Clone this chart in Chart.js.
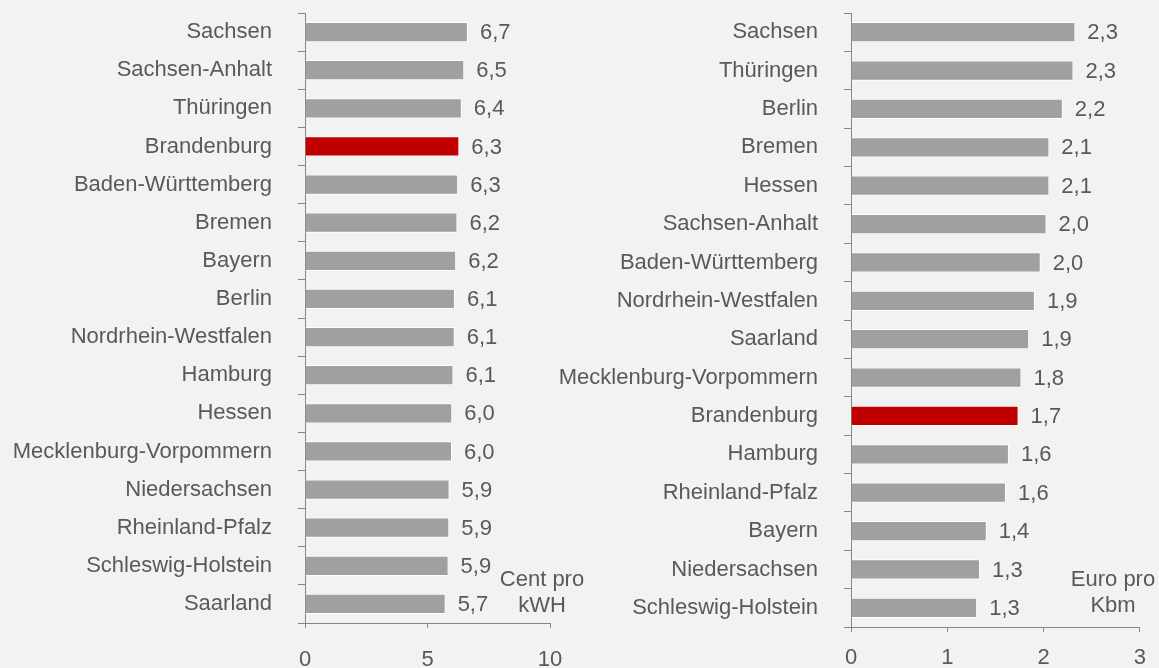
<!DOCTYPE html>
<html>
<head>
<meta charset="utf-8">
<script src="https://cdn.jsdelivr.net/npm/chart.js@4.4.1/dist/chart.umd.min.js"></script>
<style>
  html, body { margin: 0; padding: 0; background: #f2f2f2; }
  body { width: 1159px; height: 668px; position: relative; overflow: hidden;
         font-family: "Liberation Sans", Arial, sans-serif; }
  .wrap { position: absolute; top: 0; }
  .unit { position: absolute; width: 120px; text-align: center; font-size: 22px;
          line-height: 26px; color: #595959; }
</style>
</head>
<body>
<div class="wrap" style="left:0;width:600px;height:668px;"><canvas id="c1" width="600" height="668"></canvas></div>
<div class="wrap" style="left:540px;width:619px;height:668px;"><canvas id="c2" width="619" height="668"></canvas></div>
<div class="unit" style="left:482px;top:566px;">Cent pro<br>kWH</div>
<div class="unit" style="left:1053px;top:566px;">Euro pro<br>Kbm</div>
<script>
// ---- Left chart: Strom (Cent pro kWH)
const stromCategories = ["Sachsen","Sachsen-Anhalt","Thüringen","Brandenburg","Baden-Württemberg","Bremen","Bayern","Berlin","Nordrhein-Westfalen","Hamburg","Hessen","Mecklenburg-Vorpommern","Niedersachsen","Rheinland-Pfalz","Schleswig-Holstein","Saarland"];
const stromValues = [6.65, 6.5, 6.4, 6.3, 6.25, 6.22, 6.17, 6.12, 6.11, 6.06, 6.01, 6.0, 5.9, 5.89, 5.86, 5.74];
const stromLabels = ["6,7","6,5","6,4","6,3","6,3","6,2","6,2","6,1","6,1","6,1","6,0","6,0","5,9","5,9","5,9","5,7"];
const stromTicks = [0, 5, 10];

// ---- Right chart: Wasser (Euro pro Kbm)
const wasserCategories = ["Sachsen","Thüringen","Berlin","Bremen","Hessen","Sachsen-Anhalt","Baden-Württemberg","Nordrhein-Westfalen","Saarland","Mecklenburg-Vorpommern","Brandenburg","Hamburg","Rheinland-Pfalz","Bayern","Niedersachsen","Schleswig-Holstein"];
const wasserValues = [2.33, 2.31, 2.2, 2.06, 2.06, 2.03, 1.97, 1.91, 1.85, 1.77, 1.74, 1.64, 1.61, 1.41, 1.34, 1.31];
const wasserLabels = ["2,3","2,3","2,2","2,1","2,1","2,0","2,0","1,9","1,9","1,8","1,7","1,6","1,6","1,4","1,3","1,3"];
const wasserTicks = [0, 1, 2, 3];

const highlight = "Brandenburg";
const GREY = "#a0a0a0", RED = "#c00000", TEXT = "#595959", AXIS = "#868686";
const FONT = "Liberation Sans";

const valueLabelPlugin = {
  id: "valueLabels",
  afterDatasetsDraw(chart) {
    const ctx = chart.ctx;
    const labels = chart.options.plugins.valueLabels.labels;
    const meta = chart.getDatasetMeta(0);
    ctx.save();
    ctx.font = "22px '" + FONT + "'";
    ctx.fillStyle = TEXT;
    ctx.textAlign = "left";
    ctx.textBaseline = "middle";
    meta.data.forEach((bar, i) => {
      ctx.fillText(labels[i], bar.x + 12, bar.y + 1);
    });
    ctx.restore();
  }
};

function makeChart(id, cats, vals, labs, ticks, yWidth, xHeight, padRight, xPad) {
  const max = ticks[ticks.length - 1];
  const step = ticks[1] - ticks[0];
  return new Chart(document.getElementById(id), {
    type: "bar",
    data: {
      labels: cats,
      datasets: [{
        data: vals,
        backgroundColor: cats.map(c => c === highlight ? RED : GREY),
        borderColor: "#ffffff",
        borderWidth: 1,
        barPercentage: 0.53,
        categoryPercentage: 1.0
      }]
    },
    options: {
      indexAxis: "y",
      responsive: false,
      animation: false,
      devicePixelRatio: 1,
      layout: { padding: { top: 13, right: padRight, bottom: 0, left: 0 } },
      plugins: {
        legend: { display: false },
        tooltip: { enabled: false },
        valueLabels: { labels: labs }
      },
      scales: {
        x: {
          min: 0, max: max,
          afterBuildTicks: s => { s.ticks = ticks.map(v => ({ value: v })); },
          ticks: { stepSize: step, color: TEXT, font: { family: FONT, size: 22 }, padding: xPad, maxRotation: 0 },
          grid: { display: true, drawOnChartArea: false, drawTicks: true, tickLength: 5, color: AXIS },
          border: { display: true, color: AXIS, width: 1 },
          afterFit: s => { s.height = xHeight; }
        },
        y: {
          ticks: { color: TEXT, font: { family: FONT, size: 22 }, padding: 26, autoSkip: false },
          grid: { display: true, drawOnChartArea: false, drawTicks: true, tickLength: 7, color: AXIS, offset: true },
          border: { display: true, color: AXIS, width: 1 },
          afterFit: s => { s.width = yWidth; s.paddingTop = 0; s.paddingBottom = 0; }
        }
      }
    },
    plugins: [valueLabelPlugin]
  });
}

makeChart("c1", stromCategories, stromValues, stromLabels, stromTicks, 305, 45, 50, 19);
makeChart("c2", wasserCategories, wasserValues, wasserLabels, wasserTicks, 311, 41, 18, 13);
</script>
</body>
</html>
